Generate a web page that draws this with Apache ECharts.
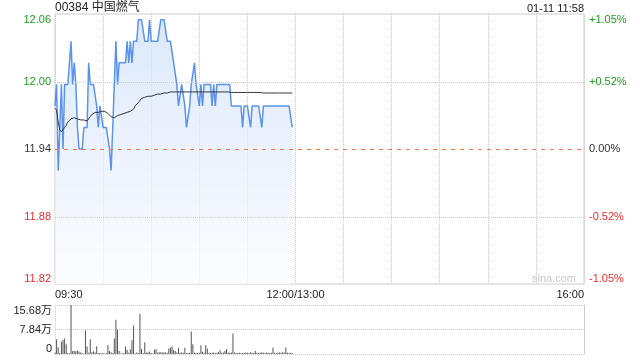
<!DOCTYPE html>
<html>
<head>
<meta charset="utf-8">
<script src="https://cdn.jsdelivr.net/npm/echarts@6/dist/echarts.min.js"></script>
<style>
html,body{margin:0;padding:0;background:#fff;}
#c{width:640px;height:360px;}
</style>
</head>
<body>
<div id="c"></div>
<script>
// ---- data ----
var titleText = '00384 中国燃气';
var timeText = '01-11 11:58';
var prevClose = 11.94;
var pctRange = 1.05;            // axis spans +/- this percent of prevClose
var priceLabels = ['11.82', '11.88', '11.94', '12.00', '12.06'];
var pctLabels = ['-1.05%', '-0.52%', '0.00%', '+0.52%', '+1.05%'];
var volTickLabels = ['0', '7.84万', '15.68万'];
var xLabelPos = [0, 150, 330];
var xLabelText = ['09:30', '12:00/13:00', '16:00'];

// minute-by-minute price from 09:30
var prices = [
11.98,12.00,11.92,11.92,12.00,11.94,12.00,12.00,12.00,12.00,
12.04,12.00,12.02,12.00,11.96,11.94,11.94,11.94,11.96,11.96,
11.96,12.02,12.00,12.00,12.00,12.00,11.98,11.96,11.98,11.98,
11.96,11.96,11.96,11.96,11.94,11.92,11.96,12.00,12.04,12.00,
12.02,12.02,12.02,12.02,12.02,12.04,12.02,12.04,12.02,12.04,
12.04,12.04,12.06,12.06,12.06,12.06,12.04,12.04,12.04,12.06,
12.04,12.04,12.04,12.04,12.04,12.04,12.06,12.06,12.06,12.06,
12.04,12.04,12.04,12.04,12.02,12.02,12.00,11.98,11.98,12.00,
12.00,11.98,11.96,11.96,11.98,12.00,12.00,12.02,12.00,12.00,
11.98,12.00,11.98,12.00,12.00,12.00,12.00,12.00,11.98,12.00,
11.98,12.00,12.00,12.00,12.00,12.00,12.00,12.00,12.00,12.00,
11.98,11.98,11.98,11.98,11.98,11.98,11.98,11.96,11.98,11.98,
11.98,11.98,11.96,11.98,11.98,11.98,11.98,11.98,11.98,11.96,
11.98,11.98,11.98,11.98,11.98,11.98,11.98,11.98,11.98,11.98,
11.98,11.98,11.98,11.98,11.98,11.98,11.98,11.98,11.96
];
// average price line
var avgPrices = [
11.978,11.976,11.965,11.958,11.956,11.957,11.960,11.962,11.965,11.966,
11.968,11.968,11.969,11.969,11.968,11.967,11.967,11.967,11.967,11.967,
11.966,11.968,11.970,11.972,11.973,11.974,11.974,11.974,11.975,11.975,
11.975,11.975,11.974,11.973,11.972,11.970,11.969,11.969,11.970,11.971,
11.972,11.972,11.972,11.973,11.974,11.974,11.975,11.975,11.976,11.977,
11.980,11.981,11.983,11.985,11.987,11.987,11.988,11.988,11.989,11.989,
11.989,11.990,11.990,11.990,11.991,11.991,11.991,11.991,11.992,11.992,
11.992,11.993,11.993,11.993,11.993,11.993,11.993,11.993,11.993,11.993,
11.993,11.993,11.993,11.993,11.993,11.993,11.993,11.993,11.993,11.993,
11.993,11.993,11.993,11.993,11.993,11.993,11.993,11.993,11.993,11.993,
11.993,11.993,11.993,11.993,11.993,11.993,11.993,11.993,11.993,11.993,
11.9925,11.9925,11.9925,11.9925,11.9925,11.9925,11.9925,11.9925,11.9925,11.9925,
11.9925,11.9925,11.9925,11.9925,11.9925,11.9925,11.9925,11.9925,11.9925,11.9925,
11.992,11.992,11.992,11.992,11.992,11.992,11.992,11.992,11.992,11.992,
11.992,11.992,11.992,11.992,11.992,11.992,11.992,11.992,11.992
];
// volume in 万
var volumes = [
0.4,4.7,2.1,0.3,3.9,4.5,5.0,3.1,0.3,0.2,
15.68,1.0,1.0,0.9,1.1,0.8,0.5,0.3,0.2,7.5,
2.4,0.4,4.7,0.6,0.9,0.5,2.5,0.3,0.3,0.2,
0.3,0.2,0.3,2.8,1.0,0.6,0.3,5.0,11.0,7.8,
1.0,0.2,0.2,0.3,2.3,1.3,0.4,1.5,4.4,9.1,
0.2,0.5,0.3,12.9,1.6,0.3,3.8,0.5,0.5,0.8,
0.3,0.2,1.4,1.6,0.5,0.6,0.6,0.5,0.6,0.5,
0.4,1.8,2.0,2.4,1.3,1.0,0.5,2.0,0.4,0.5,
0.4,2.0,0.3,0.3,0.4,7.2,3.1,0.4,0.3,0.3,
0.4,2.8,0.7,0.4,2.8,1.8,0.4,0.3,0.4,0.5,
0.3,0.4,0.6,1.2,0.4,0.5,1.0,1.6,0.5,0.4,
0.5,6.6,0.5,0.3,0.3,0.4,0.3,0.3,0.4,0.5,
0.4,0.3,0.6,0.4,0.3,1.0,0.4,0.3,0.4,0.6,
0.4,0.3,0.5,0.4,0.3,0.4,2.1,0.4,0.3,0.4,
0.5,0.4,0.6,0.5,2.1,0.4,0.3,0.4,0.3
];

// ---- chart ----
var FONT = '"Liberation Sans", Arial, "Noto Sans CJK SC", sans-serif';
var GREEN = '#1e9e1e', RED = '#f02c2c', BLACK = '#333';
function toPct(p){ return (p - prevClose) / prevClose * 100; }
function pctColor(v){
  v = parseFloat(v);
  if (Math.abs(v) < 1e-6) return BLACK;
  return v > 0 ? GREEN : RED;
}
var pricePairs = prices.map(function(p, i){ return [i, toPct(p)]; });
var avgPairs = avgPrices.map(function(p, i){ return [i, toPct(p)]; });
var volPairs = volumes.map(function(v, i){ return [i, v]; });

// half a pixel in axis units, so the 1px reference line lands on a pixel row
var halfPx = pctRange * 2 / 270 / 2;
var gridDotted = {color: '#ccc', type: 'dotted', width: 1};
var chart = echarts.init(document.getElementById('c'), null, {renderer:'canvas'});
chart.setOption({
  animation: false,
  backgroundColor: '#fff',
  textStyle: {fontFamily: FONT},
  title: [
    {text: titleText, left: 55, top: 2, padding: 0,
     textStyle: {fontSize: 12, fontWeight: 'normal', color: '#222', fontFamily: FONT}},
    {text: timeText, right: 56, top: 3, padding: 0,
     textStyle: {fontSize: 11, fontWeight: 'normal', color: '#222', fontFamily: FONT}}
  ],
  graphic: [
    {type: 'text', left: 532, top: 273, silent: true,
     style: {text: 'sina.com', fill: '#c8c8c8', font: '11px ' + FONT}}
  ],
  grid: [
    {left: 55, right: 56, top: 14, height: 270, show: true, borderColor: '#ccc', borderWidth: 1},
    {left: 55, right: 56, top: 305, height: 49, show: false}
  ],
  xAxis: [
    {type: 'value', gridIndex: 0, min: 0, max: 330, interval: 30,
     axisLine: {show: false}, axisTick: {show: false},
     splitLine: {show: true, lineStyle: gridDotted},
     axisLabel: {show: true, margin: 5, fontSize: 11, color: '#222', fontFamily: FONT,
       showMinLabel: true, showMaxLabel: true,
       alignMinLabel: 'left', alignMaxLabel: 'right',
       formatter: function(v){ var k = xLabelPos.indexOf(Math.round(v)); return k >= 0 ? xLabelText[k] : ''; }}},
    {type: 'value', gridIndex: 1, min: 0, max: 330, interval: 30,
     axisLine: {show: false}, axisTick: {show: false}, axisLabel: {show: false},
     splitLine: {show: false}}
  ],
  yAxis: [
    {type: 'value', gridIndex: 0, position: 'left', min: -pctRange, max: pctRange, interval: pctRange / 2,
     axisLine: {show: false}, axisTick: {show: false},
     splitLine: {show: false},
     axisLabel: {margin: 4, fontSize: 11, fontFamily: FONT,
       verticalAlignMinLabel: 'bottom', verticalAlignMaxLabel: 'top',
       color: function(v){ return pctColor(v); },
       formatter: function(v, i){ return priceLabels[i]; }}},
    {type: 'value', gridIndex: 0, position: 'right', min: -pctRange, max: pctRange, interval: pctRange / 2,
     axisLine: {show: false}, axisTick: {show: false}, splitLine: {show: false},
     axisLabel: {margin: 5, fontSize: 11, fontFamily: FONT,
       verticalAlignMinLabel: 'bottom', verticalAlignMaxLabel: 'top',
       color: function(v){ return pctColor(v); },
       formatter: function(v, i){ return pctLabels[i]; }}},
    {type: 'value', gridIndex: 1, position: 'left', min: 0, max: 15.68, interval: 7.84,
     axisLine: {show: true, lineStyle: {color: '#e2e2e2'}}, axisTick: {show: false},
     splitLine: {show: true, lineStyle: gridDotted},
     axisLabel: {margin: 3, fontSize: 11, color: '#222', fontFamily: FONT,
       verticalAlignMinLabel: 'bottom', verticalAlignMaxLabel: 'top',
       formatter: function(v, i){ return volTickLabels[i]; }}},
    {type: 'value', gridIndex: 1, position: 'right', min: 0, max: 15.68, interval: 7.84,
     axisLine: {show: true, lineStyle: {color: '#ccc'}}, axisTick: {show: false},
     splitLine: {show: false}, axisLabel: {show: false}}
  ],
  series: [
    {type: 'line', xAxisIndex: 0, yAxisIndex: 0, data: pricePairs, symbol: 'none', z: 2,
     lineStyle: {color: '#5b93ec', width: 1.5}, itemStyle: {color: '#5b93ec'},
     areaStyle: {origin: 'start', color: new echarts.graphic.LinearGradient(0, 0, 0, 1, [
       {offset: 0, color: '#cddff8'}, {offset: 1, color: '#fbfcff'}])},
     markLine: {silent: true, symbol: 'none', label: {show: false}, precision: 6,
       data: [
         {yAxis: pctRange / 2 - halfPx, lineStyle: gridDotted},
         {yAxis: -pctRange / 2 - halfPx, lineStyle: gridDotted},
         {yAxis: toPct(prevClose) - halfPx, lineStyle: {color: '#ec7a4a', type: [4, 5], width: 1}}
       ]}},
    {type: 'line', xAxisIndex: 0, yAxisIndex: 0, data: avgPairs, symbol: 'none',
     lineStyle: {color: '#333', width: 1}, itemStyle: {color: '#333'}, z: 3},
    {type: 'bar', xAxisIndex: 1, yAxisIndex: 2, data: volPairs, barWidth: 1,
     itemStyle: {color: '#555'}}
  ]
});
</script>
</body>
</html>
